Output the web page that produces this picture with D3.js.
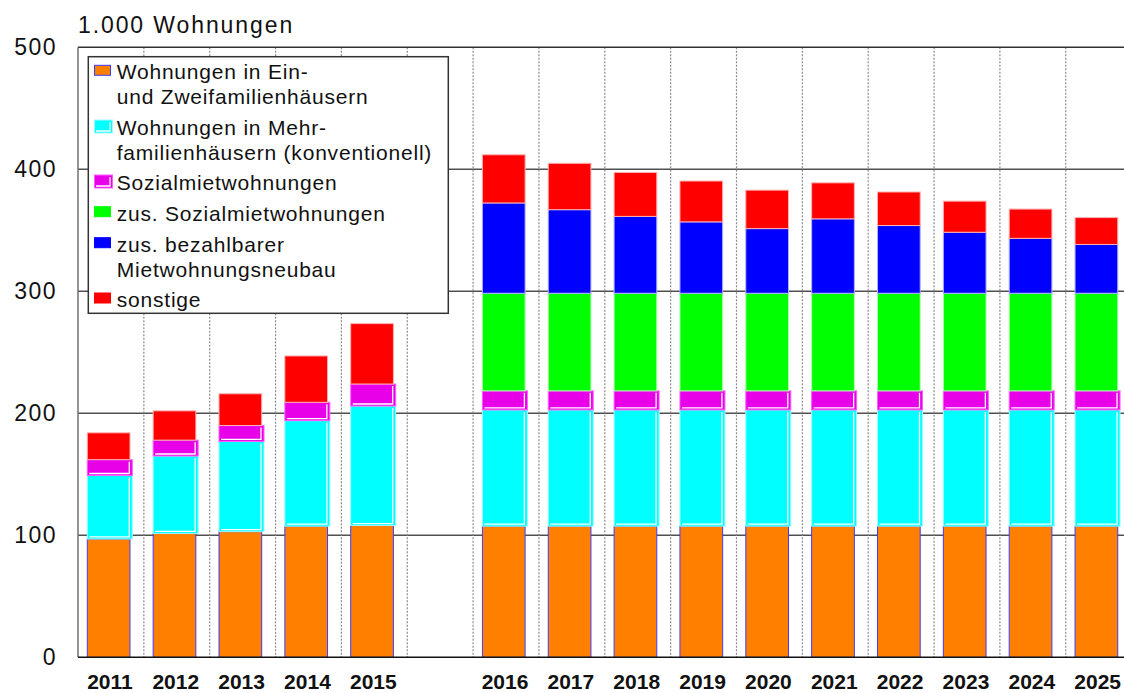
<!DOCTYPE html>
<html><head><meta charset="utf-8">
<script src="https://cdn.jsdelivr.net/npm/d3@7"></script>
<style>
html,body{margin:0;padding:0;background:#fff;}
svg{display:block;font-family:"Liberation Sans",Arial,sans-serif;}
</style></head>
<body><svg id="chart" width="1124" height="693"></svg>
<script>
// ---- data ----
const years = ["2011","2012","2013","2014","2015","2016","2017","2018","2019","2020","2021","2022","2023","2024","2025"];
const einZweifamilien = [97, 101.5, 103, 107.5, 108, 107.5, 107.5, 107.5, 107.5, 107.5, 107.5, 107.5, 107.5, 107.5, 107.5];
const mehrfamilien = [52, 63.5, 74, 86.5, 98, 95.3, 95.3, 95.3, 95.3, 95.3, 95.3, 95.3, 95.3, 95.3, 95.3];
const sozialmiet = [13, 13, 13, 15, 18, 15.6, 15.6, 15.6, 15.6, 15.6, 15.6, 15.6, 15.6, 15.6, 15.6];
const zusSozialmiet = [0, 0, 0, 0, 0, 80, 80, 80, 80, 80, 80, 80, 80, 80, 80];
const zusBezahlbar = [0, 0, 0, 0, 0, 74, 68.5, 63, 58.5, 53, 61, 55.5, 50, 45, 40];
const sonstige = [22, 24, 26, 38, 49.5, 39.5, 38, 36, 33.5, 31.5, 29.5, 27.5, 25.5, 24, 22];
const yTicks = [0, 100, 200, 300, 400, 500];
const seriesNames = ["Wohnungen in Ein-\nund Zweifamilienhäusern",
  "Wohnungen in Mehr-\nfamilienhäusern (konventionell)",
  "Sozialmietwohnungen",
  "zus. Sozialmietwohnungen",
  "zus. bezahlbarer\nMietwohnungsneubau",
  "sonstige"];
const yTitle = "1.000 Wohnungen";

// ---- styles ----
const series = [
  {key:"ein", vals:einZweifamilien, fill:"#ff8000", stroke:"#3c3cff", shadow:false},
  {key:"mehr", vals:mehrfamilien, fill:"#00ffff", stroke:"#9ffcff", shadow:true},
  {key:"soz", vals:sozialmiet, fill:"#e800e8", stroke:"#ff5cff", shadow:true},
  {key:"zsoz", vals:zusSozialmiet, fill:"#00ff00", stroke:"#b0ffb0", shadow:false},
  {key:"zbez", vals:zusBezahlbar, fill:"#0000ff", stroke:"#b0b0ff", shadow:false},
  {key:"sonst", vals:sonstige, fill:"#ff0000", stroke:"#ffb0b0", shadow:false}
];

const svg = d3.select("#chart");
const gapKey = "gap";
const slots = years.slice(0,5).concat([gapKey], years.slice(5));
const left = 78, slotW = 65.85;
const x = d3.scaleBand().domain(slots).range([left, left + slots.length*slotW]).paddingInner(0).paddingOuter(0);
const y = d3.scaleLinear().domain([0,500]).range([657.3, 47.3]);
const W = 1124;

// gridlines
const grid = svg.append("g");
grid.selectAll("line.h").data(yTicks.filter(t => t>0 && t<500)).join("line")
  .attr("x1", left).attr("x2", W).attr("y1", d=>y(d)).attr("y2", d=>y(d))
  .attr("stroke", "#505050").attr("stroke-width", 1.5);
grid.selectAll("line.v").data(slots.slice(0, slots.length-1)).join("line")
  .attr("x1", d=>x(d)+x.bandwidth()).attr("x2", d=>x(d)+x.bandwidth())
  .attr("y1", y(500)).attr("y2", y(0))
  .attr("stroke", "#8a8a8a").attr("stroke-width", 1.2).attr("stroke-dasharray", "2,1.5");

// stacked bars
const barOff = 9.3, barW = 42.7, wideW = 45;
const barsG = svg.append("g");
years.forEach((yr, i) => {
  let base = 0;
  series.forEach(s => {
    const v = s.vals[i];
    if (!v) return;
    const y0 = y(base), y1 = y(base + v);
    base += v;
    const bx = x(yr) + barOff;
    const w = s.shadow ? wideW : barW;
    const h = y0 - y1;
    barsG.append("rect").attr("x", bx).attr("y", y1).attr("width", w).attr("height", h)
      .attr("fill", s.fill).attr("stroke", s.stroke).attr("stroke-width", 1);
    if (s.shadow) {
      barsG.append("polyline")
        .attr("points", `${bx+2},${y0-2} ${bx+w-3},${y0-2} ${bx+w-3},${y1+2}`)
        .attr("fill","none").attr("stroke","#fff").attr("stroke-width",1.3);
    }
  });
});

// frame lines
svg.append("line").attr("x1", left).attr("x2", W).attr("y1", y(500)).attr("y2", y(500))
  .attr("stroke", "#303030").attr("stroke-width", 1.5);
svg.append("line").attr("x1", left).attr("x2", left).attr("y1", y(500)).attr("y2", y(0))
  .attr("stroke", "#707070").attr("stroke-width", 1.5);
svg.append("line").attr("x1", left).attr("x2", W).attr("y1", y(0)).attr("y2", y(0))
  .attr("stroke", "#111").attr("stroke-width", 1.5);

// y axis
const yAxis = svg.append("g").attr("transform", `translate(${left},0)`)
  .call(d3.axisLeft(y).tickValues(yTicks).tickSize(0).tickPadding(21));
yAxis.select(".domain").remove();
yAxis.selectAll("text").attr("font-size", 23).attr("font-family", "Liberation Sans, Arial, sans-serif")
  .attr("fill", "#111").attr("letter-spacing", "1.5px").attr("dy", "0.3em");

// x axis
const xAxis = svg.append("g").attr("transform", `translate(0,${y(0)})`)
  .call(d3.axisBottom(x).tickSize(0).tickPadding(17).tickFormat(d => d===gapKey ? "" : d));
xAxis.select(".domain").remove();
xAxis.selectAll("text").attr("font-size", 21).attr("font-weight", "bold")
  .attr("font-family", "Liberation Sans, Arial, sans-serif").attr("fill", "#111")
  .attr("dx", -1);

// title
svg.append("text").attr("x", 78).attr("y", 33).attr("font-size", 23)
  .attr("letter-spacing", "1.9px").attr("fill", "#111").text(yTitle);

// legend
const lg = svg.append("g");
lg.append("rect").attr("x", 88.3).attr("y", 56.7).attr("width", 360).attr("height", 256.6)
  .attr("fill", "#fff").attr("stroke", "#333").attr("stroke-width", 1.5);
const legendBase = [79.3, 135, 190, 220.7, 251.7, 307];
const lineGap = 25;
series.forEach((s, i) => {
  const bl = legendBase[i];
  const sy = bl - 14;
  if (s.shadow) {
    lg.append("rect").attr("x", 94.5).attr("y", sy-1).attr("width", 18).attr("height", 13)
      .attr("fill", s.fill).attr("stroke", s.stroke).attr("stroke-width", 1);
    lg.append("polyline").attr("points", `${96},${sy+10} ${110},${sy+10} ${110},${sy+1}`)
      .attr("fill","none").attr("stroke","#fff").attr("stroke-width",1.3);
  } else {
    lg.append("rect").attr("x", 94.5).attr("y", sy).attr("width", 16).attr("height", 10)
      .attr("fill", s.fill).attr("stroke", s.key==="ein" ? s.stroke : s.fill).attr("stroke-width", 1);
  }
  const t = lg.append("text").attr("x", 116.7).attr("y", bl).attr("font-size", 21)
    .attr("letter-spacing", "0.8px").attr("fill", "#111");
  seriesNames[i].split("\n").forEach((line, k) => {
    t.append("tspan").attr("x", 116.7).attr("y", bl + k*lineGap).text(line);
  });
});
</script></body></html>
